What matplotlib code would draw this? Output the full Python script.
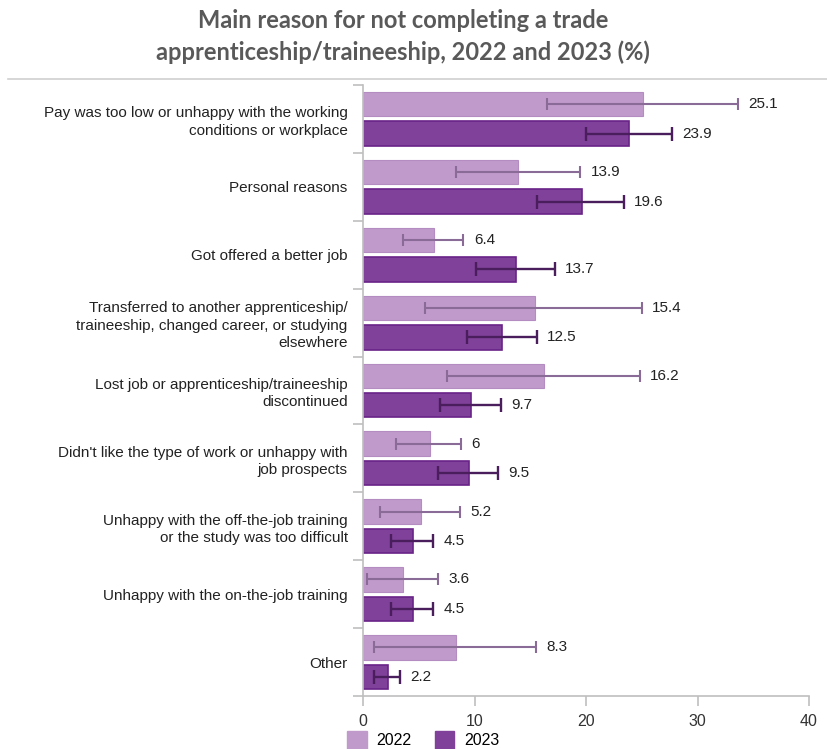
import matplotlib
matplotlib.use("Agg")
import matplotlib.pyplot as plt
from matplotlib.patches import Patch
import numpy as np

categories = [
    "Pay was too low or unhappy with the working\nconditions or workplace",
    "Personal reasons",
    "Got offered a better job",
    "Transferred to another apprenticeship/\ntraineeship, changed career, or studying\nelsewhere",
    "Lost job or apprenticeship/traineeship\ndiscontinued",
    "Didn't like the type of work or unhappy with\njob prospects",
    "Unhappy with the off-the-job training\nor the study was too difficult",
    "Unhappy with the on-the-job training",
    "Other",
]
vals_2022 = [25.1, 13.9, 6.4, 15.4, 16.2, 6.0, 5.2, 3.6, 8.3]
vals_2023 = [23.9, 19.6, 13.7, 12.5, 9.7, 9.5, 4.5, 4.5, 2.2]
lo_2022 = [16.5, 8.3, 3.6, 5.6, 7.5, 3.0, 1.5, 0.4, 1.0]
hi_2022 = [33.6, 19.5, 9.0, 25.0, 24.8, 8.8, 8.7, 6.7, 15.5]
lo_2023 = [20.0, 15.6, 10.1, 9.3, 6.9, 6.7, 2.5, 2.5, 0.95]
hi_2023 = [27.7, 23.4, 17.2, 15.6, 12.4, 12.1, 6.3, 6.3, 3.3]
labels_2022 = ["25.1", "13.9", "6.4", "15.4", "16.2", "6", "5.2", "3.6", "8.3"]
labels_2023 = ["23.9", "19.6", "13.7", "12.5", "9.7", "9.5", "4.5", "4.5", "2.2"]
series_names = ["2022", "2023"]
x_ticks = [0, 10, 20, 30, 40]

c22, c23 = "#C09ACB", "#80419A"
e22, e23 = "#8A6A96", "#4A1D5C"

fig = plt.figure(figsize=(8.27, 7.49), dpi=100)
ax = fig.add_axes([363/827, 1-696/749, (809-363)/827, (696-85)/749])

y = np.arange(len(categories))
off = 0.217
h = 0.36
ax.barh(y - off, vals_2022, height=h, color=c22, edgecolor="#B58CC2", linewidth=0.8, zorder=2)
ax.barh(y + off, vals_2023, height=h, color=c23, edgecolor="#6A2388", linewidth=1.2, zorder=2)

v22 = np.array(vals_2022); v23 = np.array(vals_2023)
err22 = [v22 - np.array(lo_2022), np.array(hi_2022) - v22]
err23 = [v23 - np.array(lo_2023), np.array(hi_2023) - v23]
ax.errorbar(vals_2022, y - off, xerr=err22, fmt="none", ecolor=e22, elinewidth=1.5,
            capsize=4.5, capthick=1.5, zorder=3)
ax.errorbar(vals_2023, y + off, xerr=err23, fmt="none", ecolor=e23, elinewidth=1.7,
            capsize=4.8, capthick=1.7, zorder=3)

for i in range(len(categories)):
    ax.annotate(labels_2022[i], (hi_2022[i], y[i] - off), xytext=(7.5, 0), textcoords="offset points",
                va="center", ha="left", fontsize=11, color="#222222", family="Liberation Sans")
    ax.annotate(labels_2023[i], (hi_2023[i], y[i] + off), xytext=(7.5, 0), textcoords="offset points",
                va="center", ha="left", fontsize=11, color="#222222", family="Liberation Sans")

ax.set_xlim(0, 40)
ax.set_ylim(len(categories) - 0.5, -0.5)
ax.set_xticks(x_ticks)
ax.set_xticklabels([str(t) for t in x_ticks], fontsize=11.5, color="#333333", family="Liberation Sans")
ax.set_yticks(y)
ax.set_yticklabels(categories, fontsize=11, color="#222222", family="Liberation Sans", linespacing=1.3)
ax.set_yticks(np.arange(-0.5, len(categories), 1.0), minor=True)
ax.tick_params(axis="y", which="major", length=0, pad=11)
ax.tick_params(axis="y", which="minor", length=7, color="#BFBFBF", width=1.2)
ax.tick_params(axis="x", length=7, color="#BFBFBF", width=1.2, pad=6)
for s in ["top", "right"]:
    ax.spines[s].set_visible(False)
for s in ["left", "bottom"]:
    ax.spines[s].set_color("#BFBFBF")
    ax.spines[s].set_linewidth(1.2)

fig.text(0.487, 0.951, "Main reason for not completing a trade\napprenticeship/traineeship, 2022 and 2023 (%)",
         ha="center", va="center", fontsize=17, fontweight="bold", color="#595959",
         family="Lato", linespacing=1.4)
fig.add_artist(plt.Line2D([8/827, 1.0], [1-79/749, 1-79/749], color="#D0D0D0", linewidth=1.2))

handles = [Patch(facecolor=c22, edgecolor=c22), Patch(facecolor=c23, edgecolor=c23)]
fig.legend(handles, series_names, loc="center left", bbox_to_anchor=(333/827, 1-740/749),
           ncol=2, frameon=False, handlelength=1.2, handleheight=1.3,
           columnspacing=1.5, handletextpad=0.6, prop={"family": "Liberation Sans", "size": 11.5})

fig.savefig("out.png", dpi=100)
